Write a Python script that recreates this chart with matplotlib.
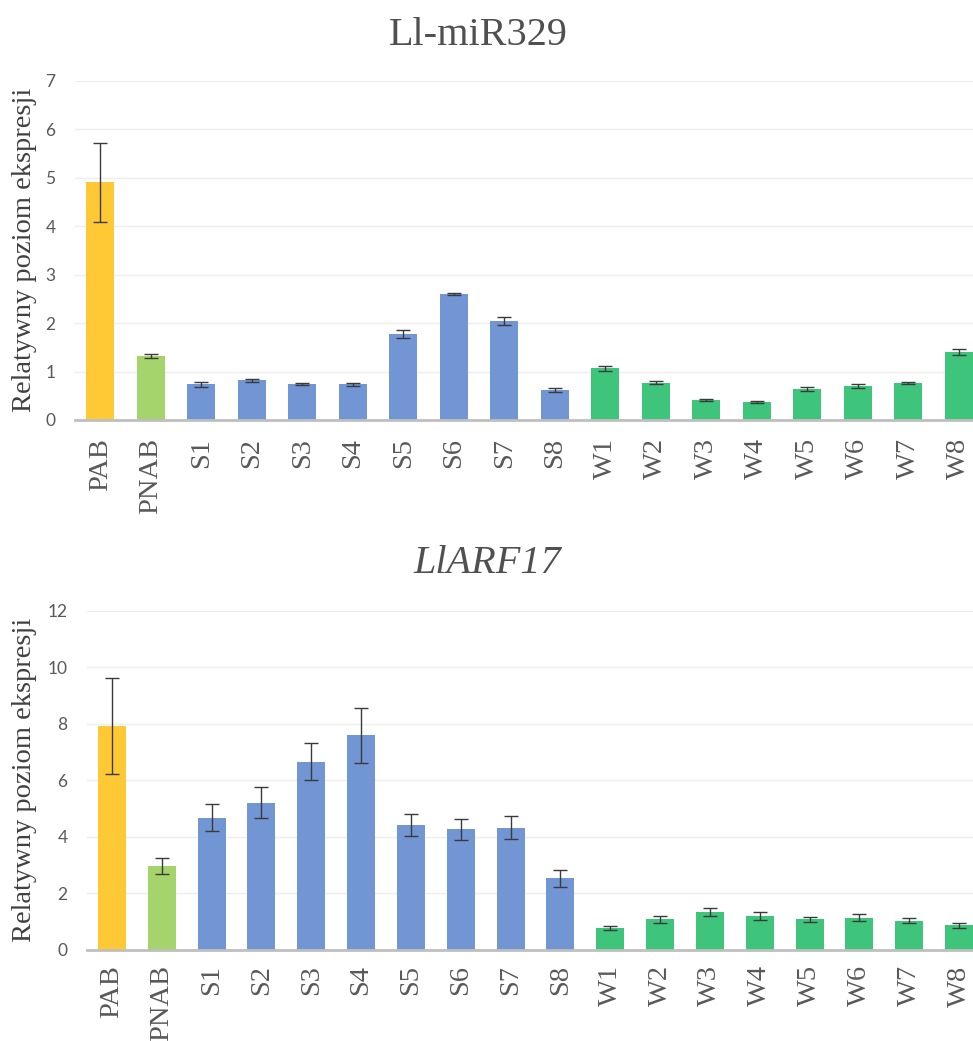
import matplotlib
matplotlib.use("Agg")
import matplotlib.pyplot as plt
import numpy as np

categories = ["PAB", "PNAB", "S1", "S2", "S3", "S4", "S5", "S6", "S7", "S8",
              "W1", "W2", "W3", "W4", "W5", "W6", "W7", "W8"]

mir329_values = [4.90, 1.32, 0.74, 0.82, 0.74, 0.74, 1.77, 2.59, 2.04, 0.62,
                 1.07, 0.77, 0.41, 0.38, 0.64, 0.71, 0.77, 1.41]
mir329_errors = [0.82, 0.05, 0.05, 0.03, 0.02, 0.03, 0.08, 0.02, 0.09, 0.04,
                 0.05, 0.03, 0.02, 0.02, 0.04, 0.04, 0.02, 0.06]

arf17_values = [7.92, 2.97, 4.68, 5.21, 6.66, 7.60, 4.42, 4.27, 4.33, 2.53,
                0.77, 1.08, 1.35, 1.20, 1.08, 1.14, 1.04, 0.88]
arf17_errors = [1.70, 0.29, 0.47, 0.54, 0.65, 0.97, 0.40, 0.38, 0.40, 0.30,
                0.08, 0.14, 0.13, 0.14, 0.09, 0.12, 0.10, 0.09]

groups = ["PAB", "PNAB"] + ["S"] * 8 + ["W"] * 8
group_colors = {"PAB": "#FFC936", "PNAB": "#A6D46C", "S": "#7196D3", "W": "#3FC47B"}
colors = [group_colors[g] for g in groups]

mir_ticks = [0, 1, 2, 3, 4, 5, 6, 7]
arf_ticks = [0, 2, 4, 6, 8, 10, 12]

W, H = 973, 1041
fig = plt.figure(figsize=(W / 100, H / 100), dpi=100)

serif = ["Liberation Serif", "DejaVu Serif"]
sans = ["Lato", "DejaVu Sans"]


def panel(rect, values, errors, ticks, title, title_xy, italic, label_x, xpad):
    ax = fig.add_axes(rect)
    x = np.arange(len(categories))
    ax.bar(x, values, width=0.56, color=colors, zorder=2)
    ax.errorbar(x, values, yerr=errors, fmt="none", ecolor="#3a3a3a",
                elinewidth=1.0, capsize=5, capthick=1.0, zorder=3)
    ax.set_xlim(-0.5, len(categories) - 0.5)
    ax.set_ylim(ticks[0], ticks[-1])
    ax.set_yticks(ticks)
    ax.set_yticklabels([str(t) for t in ticks], fontfamily=sans, fontsize=12.5,
                       color="#595959")
    ax.set_xticks(x)
    ax.set_xticklabels(categories, rotation=90, fontfamily=serif, fontsize=20.5,
                       color="#595959", va="top", ha="center")
    ax.tick_params(axis="y", length=0, pad=14)
    ax.tick_params(axis="x", length=0, pad=xpad)
    ax.grid(axis="y", color="#eeeeee", linewidth=1.0, zorder=0)
    for s in ["top", "right", "left"]:
        ax.spines[s].set_visible(False)
    ax.spines["bottom"].set_color("#bfbfbf")
    ax.spines["bottom"].set_linewidth(2.0)
    ax.spines["bottom"].set_zorder(4)
    ax.set_ylabel("Relatywny poziom ekspresji", fontfamily=serif, fontsize=20.5,
                  color="#404040")
    ax.yaxis.set_label_coords(label_x, 0.5)
    fig.text(title_xy[0], title_xy[1], title, fontfamily=serif, fontsize=29,
             color="#505050", ha="center", va="baseline",
             style="italic" if italic else "normal")
    return ax


panel([75 / W, 1 - 420 / H, (984 - 75) / W, 339.3 / H],
      mir329_values, mir329_errors, mir_ticks, "Ll-miR329",
      (478 / W, 1 - 45 / H), False, -0.042, 13)
panel([87 / W, 1 - 950 / H, (984 - 87) / W, 339.3 / H],
      arf17_values, arf17_errors, arf_ticks, "LlARF17",
      (487 / W, 1 - 573 / H), True, -0.056, 11)

fig.savefig("out.png", dpi=100)
